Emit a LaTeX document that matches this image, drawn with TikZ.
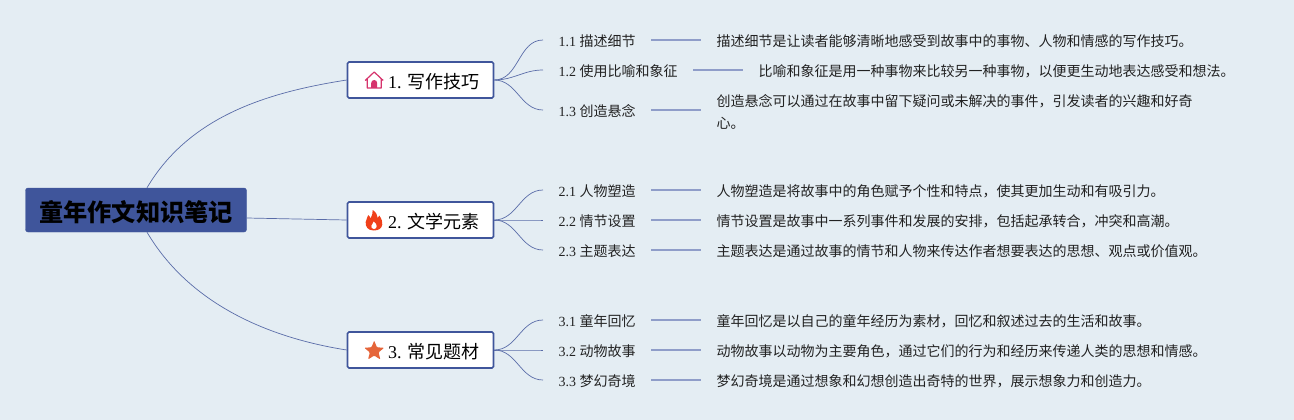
\documentclass[tikz,border=0pt]{standalone}
\usepackage{fontspec}
\setmainfont{Liberation Serif}
\newfontfamily\cjk{Noto Sans CJK SC}
\usetikzlibrary{positioning,shapes.geometric}
\definecolor{paper}{HTML}{E4EDF3}
\definecolor{rootblue}{HTML}{3F559B}
\definecolor{curveblue}{HTML}{5A6CA8}
\definecolor{lineblue}{HTML}{8F9DC9}
\definecolor{inkgrey}{HTML}{222222}
\definecolor{homepink}{HTML}{D6336C}
\definecolor{flamered}{HTML}{F0401A}
\definecolor{starorange}{HTML}{E5653A}

\begin{document}
\begin{tikzpicture}[
    x=1pt, y=-1pt,
    % The tall invisible rules sit the text a little below the middle of its node.
    rootbox/.style={rectangle, rounded corners=2.5pt, fill=rootblue, draw=rootblue, inner sep=0pt, minimum width=221pt, minimum height=44pt, font=\cjk\fontsize{24.2}{28}\selectfont\bfseries, text=black, execute at begin node={\rule{0pt}{24.8pt}}},
    % Text is pushed to the right so the icon has room on the left of the box.
    branchbox/.style={rectangle, rounded corners=1.5pt, fill=white, draw=rootblue, line width=1.6pt, inner xsep=14pt, inner ysep=0pt, text width=118pt, minimum height=36pt, align=right, font=\fontsize{18}{22}\selectfont, execute at begin node={\rule{0pt}{18pt}}},
    topic/.style={inner xsep=15.5pt, inner ysep=2pt, text=inkgrey, font=\fontsize{14}{18}\selectfont, execute at begin node={\rule{0pt}{14.3pt}}},
    detail/.style={inner xsep=15pt, inner ysep=2pt, align=left, text=inkgrey, font=\cjk\fontsize{14}{22}\selectfont, execute at begin node={\rule{0pt}{14.3pt}}},
    bough/.style={draw=curveblue, line width=0.7pt},
    rule/.style={draw=lineblue, line width=1.1pt}
  ]
    \useasboundingbox[fill=paper] (0,0) rectangle (1294,420);

    %--- Root and the three branches ---
    \node[rootbox] (root) at (136,210) {童年作文知识笔记};
    \node[branchbox] (write) at (420.5,80) {1.\ {\cjk 写作技巧}};
    \node[branchbox] (lit) at (420.5,220) {2.\ {\cjk 文学元素}};
    \node[branchbox] (theme) at (420.5,350) {3.\ {\cjk 常见题材}};

    %--- Icons, placed from the left edge of each box
    \begin{scope}[shift={(write.west)}, x=1pt, y=-1pt]
      \fill[homepink] (24.5,8) -- (24.5,3) arc[start angle=180, end angle=0, radius=3pt] -- (30.5,8) -- cycle;
      \draw[draw=homepink, line width=1.2pt, line join=round] (18.5,0.5) -- (27.5,-8) -- (36.5,0.5) (20.5,-1) -- (20.5,8) -- (34.5,8) -- (34.5,-1);
    \end{scope}
    \begin{scope}[shift={(lit.west)}, x=1pt, y=-1pt]
      \fill[flamered] (27,10.5) .. controls (21,10.5) and (18.5,6.5) .. (19,2) .. controls (19.4,-1) and (21,-2.5) .. (21.5,-5) .. controls (23,-3.8) and (23.6,-2.6) .. (24,-1.5) .. controls (26,-4.5) and (25.5,-7.5) .. (26,-10) .. controls (30,-7.5) and (30.5,-4.5) .. (31,-2) .. controls (32,-2.8) and (32.4,-3.6) .. (32.6,-4.5) .. controls (35,-1) and (36,2) .. (35.6,4.5) .. controls (35,8.5) and (32,10.5) .. (27,10.5) -- cycle;
      \fill[white] (27.3,9) .. controls (25.2,9) and (24.3,7.4) .. (24.7,5.8) .. controls (25.1,4.4) and (26.6,3.4) .. (27,1.5) .. controls (28.5,2.9) and (30.2,4.5) .. (30,6.2) .. controls (29.8,7.9) and (28.9,9) .. (27.3,9) -- cycle;
    \end{scope}
    \node[star, star points=5, star point ratio=2.3, fill=starorange, inner sep=0pt, minimum size=21pt, rounded corners=1pt] (staricon) at ([xshift=27.5pt, yshift=-1pt]theme.west) {};

    %--- Edges from the root to the branches
    \draw[bough] ([xshift=11pt]root.north) .. controls (190,115) and (270,92) .. (write.west);
    \draw[bough] ([yshift=-8pt]root.east) -- (lit.west);
    \draw[bough] ([xshift=11pt]root.south) .. controls (190,305) and (270,338) .. (theme.west);

    %--- Branch 1
    \node[topic, anchor=west] (t11) at (543,40) {1.1 {\cjk 描述细节}};
    \node[topic, anchor=west] (t12) at (543,70) {1.2 {\cjk 使用比喻和象征}};
    \node[topic, anchor=west] (t13) at (543,110) {1.3 {\cjk 创造悬念}};
    \node[detail, right=50pt of t11] (d11) {描述细节是让读者能够清晰地感受到故事中的事物、人物和情感的写作技巧。};
    \node[detail, right=50pt of t12] (d12) {比喻和象征是用一种事物来比较另一种事物，以便更生动地表达感受和想法。};
    \node[detail, right=50pt of t13] (d13) {\rule{0pt}{16.3pt}创造悬念可以通过在故事中留下疑问或未解决的事件，引发读者的兴趣和好奇\\心。};

    %--- Branch 2
    \node[topic, anchor=west] (t21) at (543,190) {2.1 {\cjk 人物塑造}};
    \node[topic, anchor=west] (t22) at (543,220) {2.2 {\cjk 情节设置}};
    \node[topic, anchor=west] (t23) at (543,250) {2.3 {\cjk 主题表达}};
    \node[detail, right=50pt of t21] (d21) {人物塑造是将故事中的角色赋予个性和特点，使其更加生动和有吸引力。};
    \node[detail, right=50pt of t22] (d22) {情节设置是故事中一系列事件和发展的安排，包括起承转合，冲突和高潮。};
    \node[detail, right=50pt of t23] (d23) {主题表达是通过故事的情节和人物来传达作者想要表达的思想、观点或价值观。};

    %--- Branch 3
    \node[topic, anchor=west] (t31) at (543,320) {3.1 {\cjk 童年回忆}};
    \node[topic, anchor=west] (t32) at (543,350) {3.2 {\cjk 动物故事}};
    \node[topic, anchor=west] (t33) at (543,380) {3.3 {\cjk 梦幻奇境}};
    \node[detail, right=50pt of t31] (d31) {童年回忆是以自己的童年经历为素材，回忆和叙述过去的生活和故事。};
    \node[detail, right=50pt of t32] (d32) {动物故事以动物为主要角色，通过它们的行为和经历来传递人类的思想和情感。};
    \node[detail, right=50pt of t33] (d33) {梦幻奇境是通过想象和幻想创造出奇特的世界，展示想象力和创造力。};

    %--- Edges: branch to topic
    \draw[bough] (write.east) to[out=0, in=180] (t11.west);
    \draw[bough] (write.east) to[out=0, in=180] (t12.west);
    \draw[bough] (write.east) to[out=0, in=180] (t13.west);
    \draw[bough] (lit.east) to[out=0, in=180] (t21.west);
    \draw[bough] (lit.east) to[out=0, in=180] (t22.west);
    \draw[bough] (lit.east) to[out=0, in=180] (t23.west);
    \draw[bough] (theme.east) to[out=0, in=180] (t31.west);
    \draw[bough] (theme.east) to[out=0, in=180] (t32.west);
    \draw[bough] (theme.east) to[out=0, in=180] (t33.west);

    %--- Edges: topic to detail
    \draw[rule] (t11.east) -- (d11.west);
    \draw[rule] (t12.east) -- (d12.west);
    \draw[rule] (t13.east) -- (d13.west);
    \draw[rule] (t21.east) -- (d21.west);
    \draw[rule] (t22.east) -- (d22.west);
    \draw[rule] (t23.east) -- (d23.west);
    \draw[rule] (t31.east) -- (d31.west);
    \draw[rule] (t32.east) -- (d32.west);
    \draw[rule] (t33.east) -- (d33.west);
  \end{tikzpicture}
\end{document}
